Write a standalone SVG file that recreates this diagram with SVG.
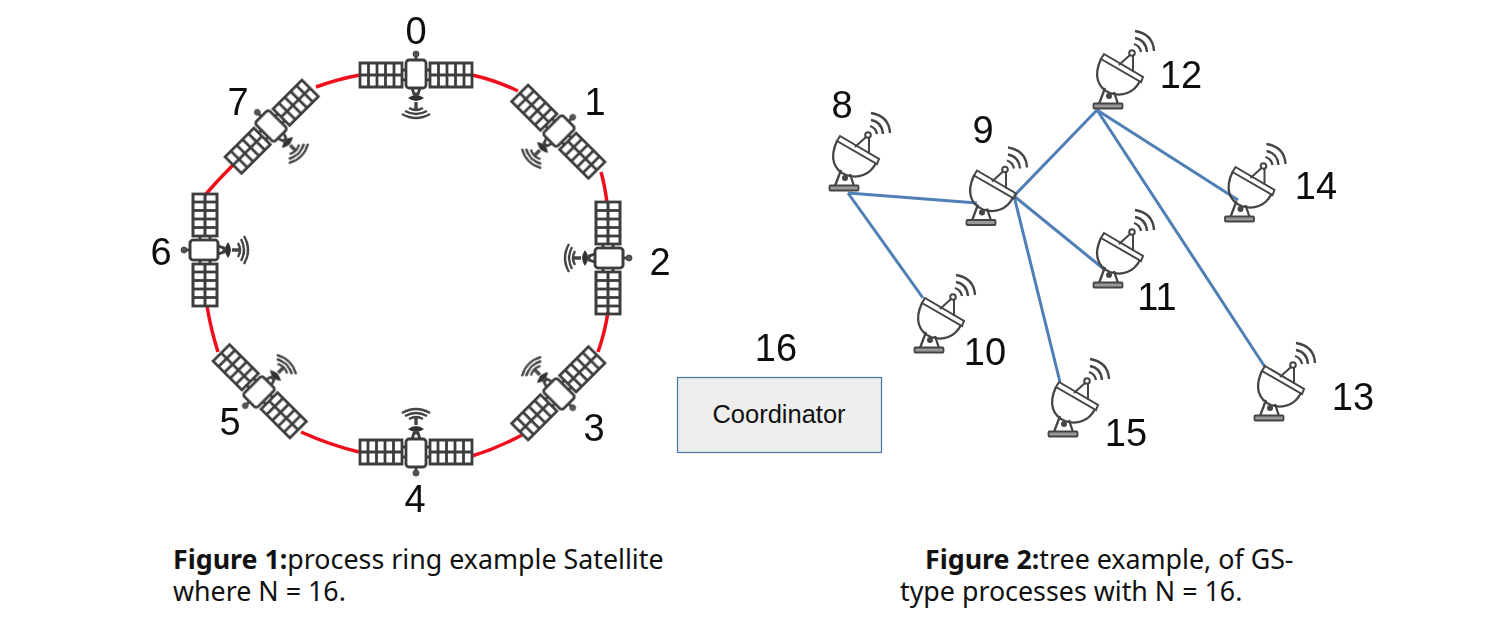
<svg xmlns="http://www.w3.org/2000/svg" width="1498" height="633" viewBox="0 0 1498 633">
<style>
.n{font-family:"Liberation Sans",Arial,sans-serif;font-size:38px;fill:#111;filter:url(#soft)}
.c{font-family:"Noto Sans","Open Sans",sans-serif;font-size:26.800px;fill:#111}
.ic{fill:none;stroke:#444;stroke-width:2}
.th{fill:none;stroke:#3c3c3c;stroke-width:2.800}
.dt{fill:none;stroke:#444;stroke-width:2.300}
.ring{fill:none;stroke:#f2101a;stroke-width:3.500}
.blue{fill:none;stroke:#4f7fb5;stroke-width:3}
.soft{filter:url(#soft)}
</style>
<defs>
<filter id="soft" x="-10%" y="-10%" width="120%" height="120%"><feGaussianBlur stdDeviation="0.500"/></filter>
<g id="sat">
<path class="th" d="M-56-11H-14V13H-56ZM-56 1H-14M-47.500-11V13M-39-11V13M-30.500-11V13M-22-11V13"/>
<path class="th" d="M14-11H56V13H14ZM14 1H56M22.500-11V13M31-11V13M39.500-11V13M48-11V13"/>
<rect class="th" x="-10" y="-14" width="20" height="28" rx="3"/>
<path class="th" d="M-14-4H-10M-14 6H-10M10-4H14M10 6H14M0-14V-18"/>
<circle cx="0" cy="-20" r="3" fill="#555" stroke="#444"/>
<path class="th" d="M-4 14L-2 20H2L4 14"/>
<path d="M-8 24Q0 18 8 24Q0 30-8 24Z" fill="#333"/>
<path d="M0 28V35" stroke="#444" stroke-width="3.500"/>
<path d="M-7 34Q0 38 7 34M-11 37Q0 43 11 37M-14 40Q0 48 14 40" fill="none" stroke="#444" stroke-width="2.400"/>
</g>
<g id="dish">
<path class="ic" d="M840 136L879 159L877 164L837 141Z"/>
<path class="dt" d="M837 141C829 158 834 170 846 175C858 179 870 175 876 163"/>
<path class="ic" d="M855 147L866 137M869 137L869 154"/>
<circle cx="868" cy="135" r="2.800" fill="#fff" stroke="#444" stroke-width="2"/>
<path class="dt" d="M870 126Q876 128 877 134M871 120Q882 122 883 134M871 113Q889 116 890 133"/>
<path class="dt" d="M835 186L841 170M854 186L850 174"/>
<circle cx="845" cy="178" r="3" fill="#444"/>
<rect x="829.500" y="185.500" width="29" height="5" rx="1" fill="#999" stroke="#444" stroke-width="1.800"/>
</g>
</defs>
<g id="ring-connectors" class="soft">
<path class="ring" d="M360 75Q338 79 316 87"/>
<path class="ring" d="M472 75Q495 80 518 91"/>
<path class="ring" d="M601 172Q605 186 607 203"/>
<path class="ring" d="M608 312Q605 332 598 352"/>
<path class="ring" d="M522 435Q498 448 472 456"/>
<path class="ring" d="M359 452Q330 445 301 432"/>
<path class="ring" d="M218 352Q211 330 207 306"/>
<path class="ring" d="M205 195Q218 180 233 165"/>
</g>
<g id="tree-connectors" class="soft">
<path class="blue" d="M848 193L977 203M848 193L923 298M1014 196L1097 110M1014 196L1105 270M1014 196L1060 382M1097 110L1238 200M1097 110L1265 367"/>
</g>
<g id="sat0"><use class="soft" href="#sat" transform="translate(416 74)"/><text class="n" x="416" y="44" text-anchor="middle">0</text></g>
<g id="sat1"><use class="soft" href="#sat" transform="translate(559 131) rotate(45) scale(.97)"/><text class="n" x="595" y="115" text-anchor="middle">1</text></g>
<g id="sat2"><use class="soft" href="#sat" transform="translate(609 258) rotate(90)"/><text class="n" x="660" y="275" text-anchor="middle">2</text></g>
<g id="sat3"><use class="soft" href="#sat" transform="translate(559 394) rotate(135) scale(.97)"/><text class="n" x="594" y="441" text-anchor="middle">3</text></g>
<g id="sat4"><use class="soft" href="#sat" transform="translate(416 453) rotate(180)"/><text class="n" x="415" y="512" text-anchor="middle">4</text></g>
<g id="sat5"><use class="soft" href="#sat" transform="translate(259 392) rotate(225) scale(.97)"/><text class="n" x="230" y="435" text-anchor="middle">5</text></g>
<g id="sat6"><use class="soft" href="#sat" transform="translate(204 250) rotate(270)"/><text class="n" x="161" y="265" text-anchor="middle">6</text></g>
<g id="sat7"><use class="soft" href="#sat" transform="translate(271 126) rotate(315) scale(.97)"/><text class="n" x="238" y="115" text-anchor="middle">7</text></g>
<g id="gs8"><use class="soft" href="#dish"/><text class="n" x="842" y="118" text-anchor="middle">8</text></g>
<g id="gs9"><use class="soft" href="#dish" transform="translate(137 34.500)"/><text class="n" x="983" y="143" text-anchor="middle">9</text></g>
<g id="gs10"><use class="soft" href="#dish" transform="translate(85 162)"/><text class="n" x="985" y="365" text-anchor="middle">10</text></g>
<g id="gs11"><use class="soft" href="#dish" transform="translate(264 97)"/><text class="n" x="1157" y="310" text-anchor="middle">11</text></g>
<g id="gs12"><use class="soft" href="#dish" transform="translate(264 -82)"/><text class="n" x="1181" y="88" text-anchor="middle">12</text></g>
<g id="gs13"><use class="soft" href="#dish" transform="translate(425 230)"/><text class="n" x="1353" y="410" text-anchor="middle">13</text></g>
<g id="gs14"><use class="soft" href="#dish" transform="translate(395.500 31)"/><text class="n" x="1316" y="199" text-anchor="middle">14</text></g>
<g id="gs15"><use class="soft" href="#dish" transform="translate(219 246)"/><text class="n" x="1126" y="446" text-anchor="middle">15</text></g>
<g id="coordinator">
<text class="n" x="776" y="361" text-anchor="middle">16</text>
<rect x="677.500" y="377.500" width="204" height="75" fill="#eeeeee" stroke="#4a76a8" stroke-width="1.200"/>
<text x="779" y="423" text-anchor="middle" font-family="Liberation Sans, Arial, sans-serif" font-size="25.500" fill="#111">Coordinator</text>
</g>
<g id="captions">
<text class="c" x="173" y="569"><tspan font-weight="700">Figure 1:</tspan><tspan>process ring example Satellite</tspan></text>
<text class="c" x="173" y="601">where N = 16.</text>
<text class="c" x="925" y="569"><tspan font-weight="700">Figure 2:</tspan><tspan>tree example, of GS-</tspan></text>
<text class="c" x="900" y="601">type processes with N = 16.</text>
</g>
</svg>
